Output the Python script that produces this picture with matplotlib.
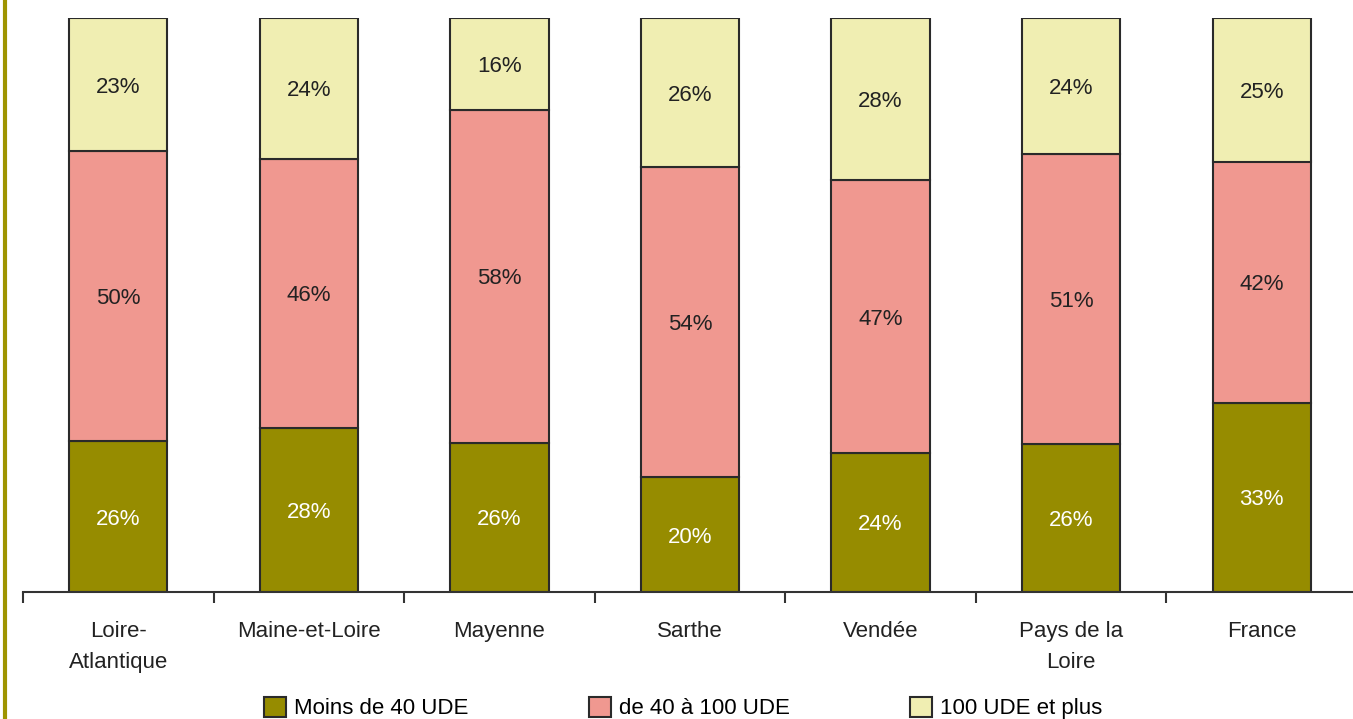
import matplotlib
matplotlib.use("Agg")
import matplotlib.pyplot as plt
from matplotlib.lines import Line2D
import numpy as np

categories = ["Loire-\nAtlantique", "Maine-et-Loire", "Mayenne", "Sarthe",
              "Vendée", "Pays de la\nLoire", "France"]
moins_40 = [26, 28, 26, 20, 24, 26, 33]
de_40_100 = [50, 46, 58, 54, 47, 51, 42]
plus_100 = [23, 24, 16, 26, 28, 24, 25]
series_names = ["Moins de 40 UDE", "de 40 à 100 UDE", "100 UDE et plus"]
colors = ["#968C00", "#F09890", "#F0EEB2"]
label_colors = ["white", "#222222", "#222222"]

plt.rcParams['font.family'] = ['Liberation Sans', 'DejaVu Sans']

W, H = 1353, 719
fig = plt.figure(figsize=(W / 100, H / 100), dpi=100)
ax = fig.add_axes([23 / W, (H - 592) / H, (1357 - 23) / W, (592 - 18) / H])

data = np.array([moins_40, de_40_100, plus_100], dtype=float)
totals = data.sum(axis=0)
norm = data / totals * 100
x = np.arange(len(categories))
bottom = np.zeros(len(categories))
for i in range(3):
    ax.bar(x, norm[i], 0.515, bottom=bottom, color=colors[i],
           edgecolor="#2a2a2a", linewidth=1.5, label=series_names[i], zorder=2)
    for j in range(len(categories)):
        ax.text(x[j], bottom[j] + norm[i][j] / 2, f"{int(data[i][j])}%",
                ha="center", va="center_baseline", fontsize=16,
                color=label_colors[i], zorder=3)
    bottom += norm[i]

ax.set_xlim(-0.5, 6.5)
ax.set_ylim(0, 100)
for s in ["top", "right", "left"]:
    ax.spines[s].set_visible(False)
ax.spines["bottom"].set_color("#333333")
ax.spines["bottom"].set_linewidth(1.5)
ax.set_yticks([])
ax.set_xticks(x)
ax.set_xticklabels(categories, fontsize=16, linespacing=1.6, color="#222222", va="top")
ax.tick_params(axis="x", which="major", length=0, pad=21)
ax.set_xticks(np.arange(-0.5, 7, 1), minor=True)
ax.tick_params(axis="x", which="minor", length=8, width=1.5, color="#333333", direction="out")

fig.add_artist(Line2D([4.5 / W, 4.5 / W], [0, 1], transform=fig.transFigure,
                      color="#9E9400", linewidth=3))

handles, labels = ax.get_legend_handles_labels()
fig.legend(handles, labels, loc="center", bbox_to_anchor=(683 / W, 1 - 708 / H),
           ncol=3, frameon=False, fontsize=16, handlelength=1.0, handleheight=1.0,
           handletextpad=0.35, columnspacing=5.4, borderpad=0, borderaxespad=0)

fig.savefig("out.png", dpi=100)
